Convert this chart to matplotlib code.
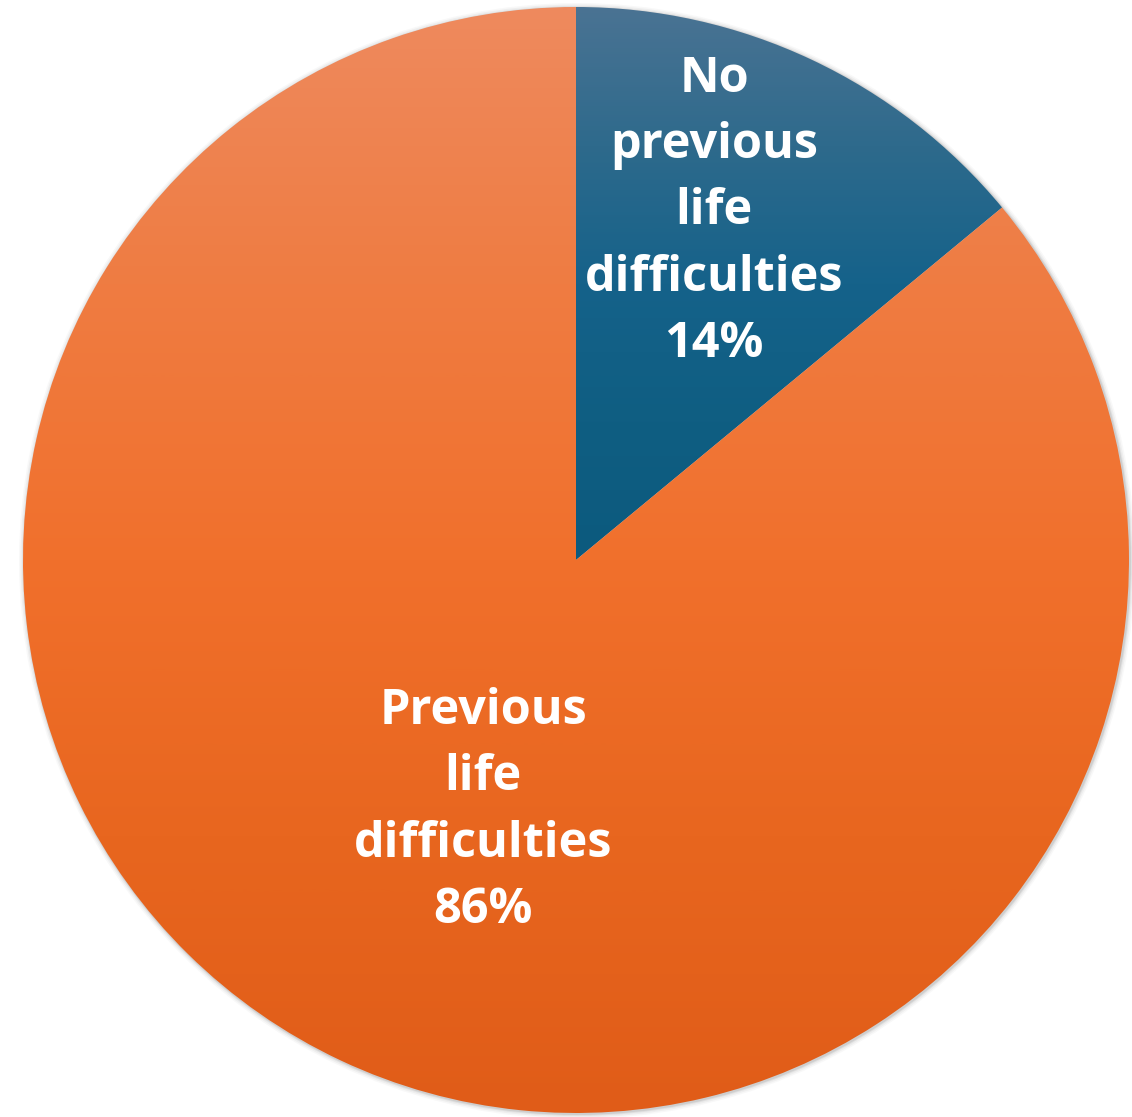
import numpy as np
import matplotlib
matplotlib.use("Agg")
import matplotlib.pyplot as plt
from matplotlib.colors import LinearSegmentedColormap
from matplotlib.patches import Circle

categories = ["No\nprevious\nlife\ndifficulties", "Previous\nlife\ndifficulties"]
values = [14, 86]
# gradient stops (bottom -> top)
grad_colors = [
    ["#0C5A7E", "#0F5E82", "#15628A", "#2E6A8C", "#4A7393"],
    ["#E05C18", "#E8661F", "#F1702C", "#EF7C42", "#EE8A5E"],
]

W, H = 1132, 1117
fig = plt.figure(figsize=(W / 100, H / 100), dpi=100)
ax = fig.add_axes([0, 0, 1, 1])

cx, cy, r = 576, H - 560, 553

# soft shadow
for dr, a in [(5, 0.05), (3.5, 0.08), (2, 0.12), (1, 0.18)]:
    ax.add_patch(Circle((cx + 1, cy - 1), r + dr, color="#808080", alpha=a, lw=0, zorder=0))

wedges, _ = ax.pie(values, startangle=90, counterclock=False, center=(cx, cy),
                   radius=r, wedgeprops=dict(linewidth=0, edgecolor="none"))

for i, (w, cols) in enumerate(zip(wedges, grad_colors)):
    w.set_facecolor("none")
    cmap = LinearSegmentedColormap.from_list(f"g{i}", cols)
    grad = np.linspace(0, 1, 512).reshape(-1, 1)
    ext = (cx - r, cx + r, cy, cy + r) if i == 0 else (cx - r, cx + r, cy - r, cy + r)
    im = ax.imshow(grad, extent=ext, origin="lower",
                   cmap=cmap, aspect="auto", zorder=1, interpolation="bilinear")
    im.set_clip_path(w)

ax.set_xlim(0, W)
ax.set_ylim(0, H)
ax.set_aspect("auto")
ax.axis("off")

label_pos = [(714, H - 212), (483, H - 811)]
for lab, v, (x, y) in zip(categories, values, label_pos):
    ax.text(x, y, f"{lab}\n{v}%", ha="center", va="center", color="white",
            fontsize=35, fontweight="bold", family=["Open Sans", "DejaVu Sans"],
            linespacing=1.46, zorder=5)

fig.savefig("out.png", dpi=100)
